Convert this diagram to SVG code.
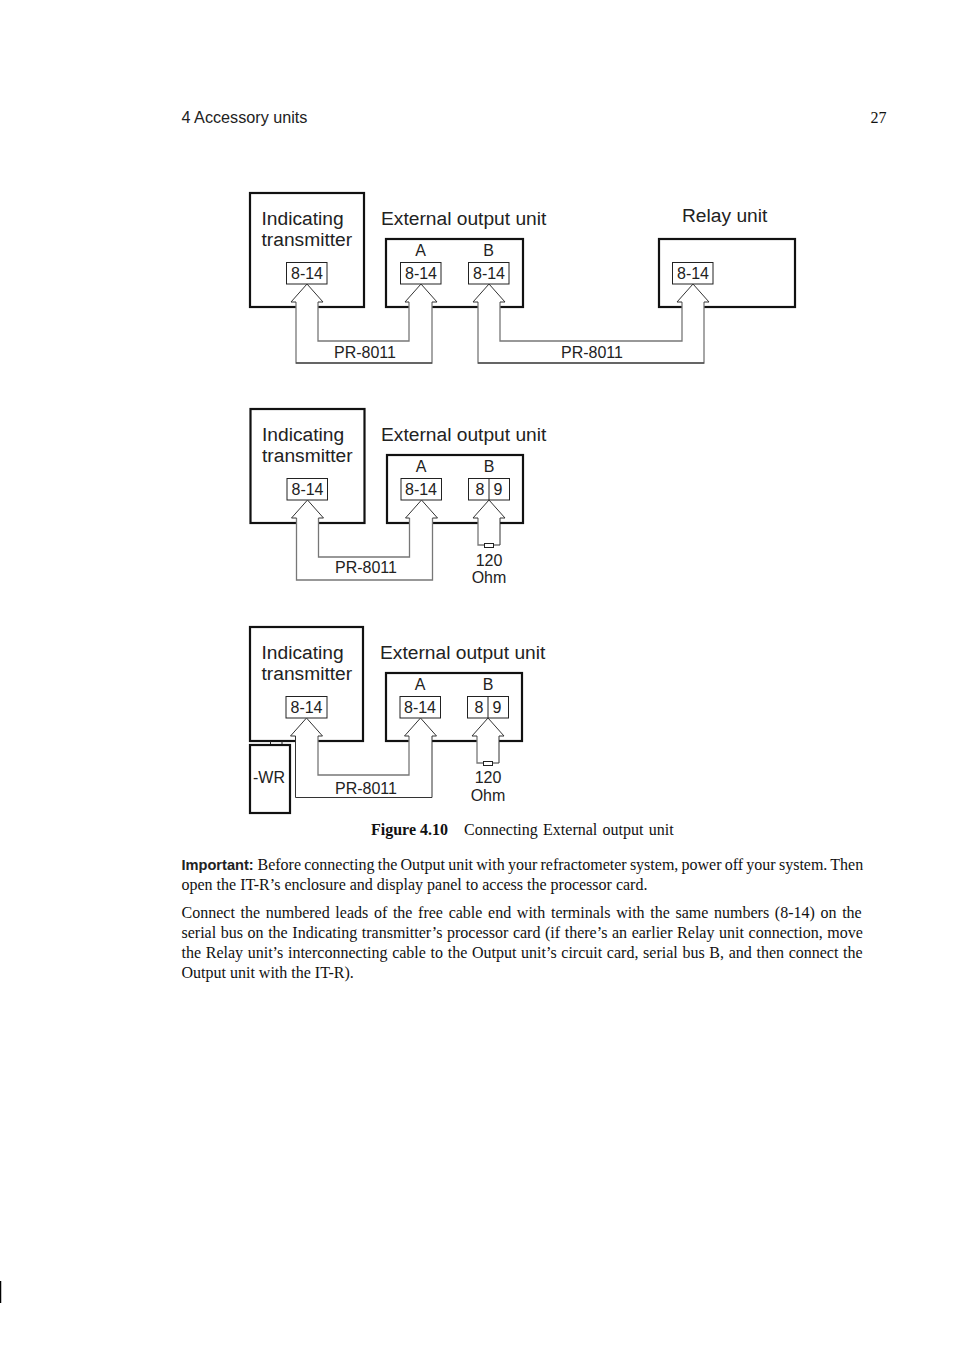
<svg xmlns="http://www.w3.org/2000/svg" width="954" height="1350" viewBox="0 0 954 1350">
<style>
.bg{fill:#fff}
.box{fill:#fff;stroke:#111;stroke-width:2.2}
.term{fill:#fff;stroke:#222;stroke-width:1}
.fill{fill:#fff;stroke:none}
.shaft{fill:none;stroke:#777;stroke-width:1.3}
.dark{fill:none;stroke:#333;stroke-width:1}
text{font-family:"Liberation Sans",Arial,sans-serif;fill:#222}
.big{font-size:19.200px}
.mid{font-size:16.200px}
.tm{font-size:16px;text-anchor:middle}
.serif{font-family:"Liberation Serif","Times New Roman",serif;font-size:16px;fill:#111}
.b{font-weight:bold}
</style>
<rect class="bg" width="954" height="1350"/>
<g id="page-header">
<text class="mid" x="181.500" y="123">4 Accessory units</text>
<text class="serif" x="870.500" y="123">27</text>
</g>

<g id="fig1-it"><rect class="box" x="250" y="193" width="114" height="114"/>
<text class="big" x="261.500" y="225">Indicating</text><text class="big" x="261.500" y="246">transmitter</text>
<rect class="term" x="286.500" y="262.500" width="40.500" height="21.500"/><text class="tm" x="307" y="279">8-14</text></g>
<g id="fig1-ext"><text class="big" x="381" y="225">External output unit</text>
<rect class="box" x="386" y="239" width="137" height="68"/>
<text class="tm" x="420.500" y="256">A</text><text class="tm" x="488.500" y="256">B</text>
<rect class="term" x="400.500" y="262.500" width="40.500" height="21.500"/><text class="tm" x="421" y="279">8-14</text>
<rect class="term" x="468.500" y="262.500" width="40.500" height="21.500"/><text class="tm" x="489" y="279">8-14</text></g>
<g id="fig1-relay"><text class="big" x="682" y="222">Relay unit</text>
<rect class="box" x="659" y="239" width="136" height="68"/>
<rect class="term" x="672.500" y="262.500" width="40.500" height="21.500"/><text class="tm" x="693" y="279">8-14</text></g>
<g id="fig1-connectors">
<path class="fill" d="M296 302H291L307 284L323 302H318V341H409V302H405L421 284L437 302H432V363H296Z"/>
<path class="shaft" d="M296 302V363H432V302M318 302V341H409V302"/>
<path class="dark" d="M296 302H291L307 284L323 302H318M409 302H405L421 284L437 302H432M296 363H432"/>
<path class="fill" d="M478 302H473L489 284L505 302H500V341H682V302H677L693 284L709 302H704V363H478Z"/>
<path class="shaft" d="M478 302V363H704V302M500 302V341H682V302"/>
<path class="dark" d="M478 302H473L489 284L505 302H500M682 302H677L693 284L709 302H704M478 363H704"/>
</g>
<text class="tm" x="365" y="358">PR-8011</text>
<text class="tm" x="592" y="358">PR-8011</text>

<g id="fig2-it"><rect class="box" x="250.500" y="409" width="114" height="114"/>
<text class="big" x="262" y="441">Indicating</text><text class="big" x="262" y="462">transmitter</text>
<rect class="term" x="287" y="478.500" width="40.500" height="21.500"/><text class="tm" x="307.500" y="495">8-14</text></g>
<g id="fig2-ext"><text class="big" x="381" y="441">External output unit</text>
<rect class="box" x="387" y="455" width="136" height="68"/>
<text class="tm" x="421" y="472">A</text><text class="tm" x="489" y="472">B</text>
<rect class="term" x="401" y="478.500" width="40.500" height="21.500"/><text class="tm" x="421" y="495">8-14</text>
<rect class="term" x="468.500" y="478.500" width="41" height="21.500"/><line class="term" x1="489" y1="478.500" x2="489" y2="500"/>
<text class="tm" x="480" y="495">8</text><text class="tm" x="498" y="495">9</text></g>
<g id="fig2-connectors">
<path class="fill" d="M296.500 518H291.500L307.500 500L323.500 518H318.500V557H409.500V518H405.500L421.500 500L437.500 518H432.500V580H296.500Z"/>
<path class="shaft" d="M296.500 518V580H432.500V518M318.500 518V557H409.500V518"/>
<path class="dark" d="M296.500 518H291.500L307.500 500L323.500 518H318.500M409.500 518H405.500L421.500 500L437.500 518H432.500"/>
<path class="fill" d="M478 518H473L489 500L505 518H500V545H478Z"/>
<path class="shaft" d="M478 518V545H484"/>
<path class="dark" d="M478 518H473L489 500L505 518H500V545H494"/>
<rect class="term" x="484.500" y="543.500" width="9" height="4"/>
</g>
<text class="tm" x="366" y="573">PR-8011</text>
<text class="tm" x="489" y="566">120</text><text class="tm" x="489" y="583">Ohm</text>

<g id="fig3-it"><rect class="box" x="250" y="627" width="113" height="114"/>
<text class="big" x="261.500" y="659">Indicating</text><text class="big" x="261.500" y="680">transmitter</text>
<rect class="term" x="286" y="696.500" width="41" height="21.500"/><text class="tm" x="306.500" y="713">8-14</text></g>
<g id="fig3-wr"><path class="term" d="M270.500 741V745M282 741V745"/><rect class="box" x="250" y="745" width="40" height="68"/><text class="tm" x="269" y="783">-WR</text></g>
<g id="fig3-ext"><text class="big" x="380" y="659">External output unit</text>
<rect class="box" x="386" y="673" width="136" height="68"/>
<text class="tm" x="420" y="690">A</text><text class="tm" x="488" y="690">B</text>
<rect class="term" x="400" y="696.500" width="40.500" height="21.500"/><text class="tm" x="420" y="713">8-14</text>
<rect class="term" x="467.500" y="696.500" width="41" height="21.500"/><line class="term" x1="488" y1="696.500" x2="488" y2="718"/>
<text class="tm" x="479" y="713">8</text><text class="tm" x="497" y="713">9</text></g>
<g id="fig3-connectors">
<path class="fill" d="M295.500 736H290.500L306.500 718L322.500 736H318V775H409V736H404.500L420.500 718L436.500 736H432V797.500H295.500Z"/>
<path class="shaft" d="M318 736V775H409V736"/>
<path class="dark" d="M295.500 736V797.500H432V736M295.500 736H290.500L306.500 718L322.500 736H318M409 736H404.500L420.500 718L436.500 736H432"/>
<path class="fill" d="M477 736H472L488 718L504 736H499V763H477Z"/>
<path class="shaft" d="M477 736V763H483"/>
<path class="dark" d="M477 736H472L488 718L504 736H499V763H493"/>
<rect class="term" x="483.500" y="761.500" width="9" height="4"/>
</g>
<text class="tm" x="366" y="794">PR-8011</text>
<text class="tm" x="488" y="783">120</text><text class="tm" x="488" y="801">Ohm</text>

<g id="caption-and-body">
<text class="serif b" x="371" y="835">Figure 4.10</text>
<text class="serif" x="464" y="835" word-spacing="1.300">Connecting External output unit</text>
<text x="181.500" y="870" style="font-size:14.600px;font-weight:bold">Important:</text>
<text class="serif" x="257.500" y="870" word-spacing="-0.770">Before connecting the Output unit with your refractometer system, power off your system. Then</text>
<text class="serif" x="181.500" y="890">open the IT-R’s enclosure and display panel to access the processor card.</text>
<text class="serif" x="181.500" y="918" word-spacing="1.670">Connect the numbered leads of the free cable end with terminals with the same numbers (8-14) on the</text>
<text class="serif" x="181.500" y="938" word-spacing="0.600">serial bus on the Indicating transmitter’s processor card (if there’s an earlier Relay unit connection, move</text>
<text class="serif" x="181.500" y="958" word-spacing="0.680">the Relay unit’s interconnecting cable to the Output unit’s circuit card, serial bus B, and then connect the</text>
<text class="serif" x="181.500" y="978">Output unit with the IT-R).</text>
</g>
<line x1="0.500" y1="1281" x2="0.500" y2="1303" stroke="#000" stroke-width="1.500"/>
</svg>
